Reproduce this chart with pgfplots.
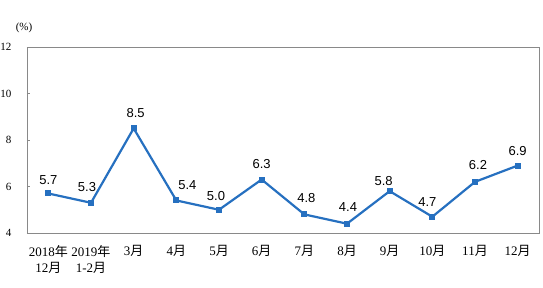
\documentclass[border=0pt]{standalone}
\usepackage{fontspec}
\setmainfont{Liberation Serif}
\newfontfamily\cjk{Noto Sans CJK SC}
\newfontfamily\arial{Liberation Sans}
\usepackage{pgfplots}
\pgfplotsset{compat=1.18}
\newcommand\nian{{\cjk 年}}
\newcommand\yue{{\cjk 月}}
\definecolor{lineblue}{RGB}{38,112,192}
\definecolor{boxgrey}{RGB}{137,137,137}
\begin{document}
\begin{tikzpicture}
\useasboundingbox (-27pt,-54pt) rectangle (516pt,233pt);
\begin{axis}[
  scale only axis,
  width=512pt, height=186pt,
  xmin=-0.5, xmax=11.5,
  ymin=4, ymax=12,
  ytick={4,6,8,10,12},
  xtick={0,...,11},
  major x tick style={draw=none},
  extra x ticks={0.5,1.5,...,10.5},
  extra x tick labels={},
  extra x tick style={tick style={draw=boxgrey, line width=0.6pt}, major tick length=3pt},
  xticklabels={{2018\nian\\12\yue},{2019\nian\\1-2\yue},3\yue,4\yue,5\yue,6\yue,7\yue,8\yue,9\yue,10\yue,11\yue,12\yue},
  x tick label style={align=center, font=\fontsize{13}{16}\selectfont, anchor=north, yshift=-9pt},
  y tick label style={font=\fontsize{11}{13}\selectfont, anchor=east, xshift=-12pt},
  /pgf/number format/assume math mode=true,
  axis line style={draw=boxgrey, line width=0.8pt},
  tick style={draw=boxgrey, line width=0.6pt},
  major tick length=3pt,
  tick align=inside,
  ytick pos=left,
  xtick pos=bottom,
  clip=false,
  nodes near coords,
  visualization depends on={\thisrow{dx} \as \dx},
  visualization depends on={\thisrow{dy} \as \dy},
  nodes near coords style={font=\arial\fontsize{13}{15}\selectfont, text=black, anchor=center,
    xshift=\dx pt, yshift=\dy pt,
    /pgf/number format/fixed, /pgf/number format/precision=1, /pgf/number format/fixed zerofill},
]
\addplot[color=lineblue, line width=2.2pt, mark=square*, mark size=2.5pt, mark options={solid, fill=lineblue, line width=0pt}]
table {
x y dx dy
0 5.7 0 13
1 5.3 -4 16
2 8.5 2 15
3 5.4 11 15
4 5.0 -3 14
5 6.3 0 16
6 4.8 2 16
7 4.4 1 17
8 5.8 -6 10
9 4.7 -5 15
10 6.2 3 17
11 6.9 0 15
};
\end{axis}
\node[font=\fontsize{11}{13}\selectfont] at (-3pt,205pt) {(\%)};
\end{tikzpicture}
\end{document}
